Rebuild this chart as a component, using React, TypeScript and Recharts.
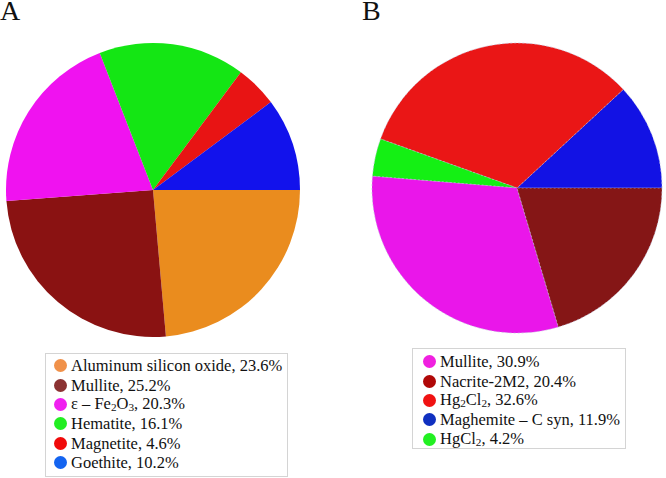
import React from 'react';
import { PieChart, Pie, Cell } from 'recharts';

// panel A: clockwise from 3 o'clock
const namesA = ['Aluminum silicon oxide', 'Mullite', 'ε – Fe_2O_3', 'Hematite', 'Magnetite', 'Goethite'];
const valuesA = [23.6, 25.2, 20.3, 16.1, 4.6, 10.2];
const sliceColorsA = ['#EA8C1E', '#8A1212', '#F012F0', '#14E614', '#E81414', '#1212EC'];
const legendColorsA = ['#F0914A', '#8B3232', '#F020F0', '#22EE22', '#F00A0A', '#1464F0'];

// panel B: counter-clockwise from 3 o'clock
const namesB = ['Maghemite – C syn', 'Hg_2Cl_2', 'HgCl_2', 'Mullite', 'Nacrite-2M2'];
const valuesB = [11.9, 32.6, 4.2, 30.9, 20.4];
const sliceColorsB = ['#1212E4', '#EA1616', '#14F014', '#EA16EA', '#851616'];
const legendColorsB = ['#1030C0', '#F01212', '#22F022', '#F020E0', '#B00808'];
const legendOrderB = [3, 4, 1, 0, 2];

const FONT = '"Liberation Serif", "Times New Roman", serif';
const NO_MARGIN = { top: 0, right: 0, bottom: 0, left: 0 };

// "_2" -> subscript 2
function Formula({ text }: { text: string }) {
  const parts = text.split(/(_\d)/);
  return (
    <>
      {parts.map((p, i) =>
        p.startsWith('_') ? (
          <span
            key={i}
            style={{ fontSize: '0.68em', display: 'inline-block', lineHeight: 1, verticalAlign: '-0.2em' }}
          >
            {p.slice(1)}
          </span>
        ) : (
          <span key={i}>{p}</span>
        )
      )}
    </>
  );
}

function LegendBox({
  names,
  values,
  colors,
  order,
  style,
}: {
  names: string[];
  values: number[];
  colors: string[];
  order: number[];
  style: React.CSSProperties;
}) {
  return (
    <div
      style={{
        position: 'absolute',
        border: '1px solid #d4d4d4',
        boxSizing: 'border-box',
        fontFamily: FONT,
        fontSize: 16.5,
        color: '#111',
        ...style,
      }}
    >
      {order.map(i => (
        <div key={i} style={{ display: 'flex', alignItems: 'center', height: 19.4, whiteSpace: 'nowrap' }}>
          <span
            style={{
              display: 'inline-block',
              width: 13,
              height: 13,
              borderRadius: '50%',
              background: colors[i],
              marginRight: 4,
              flex: 'none',
            }}
          />
          <span style={{ lineHeight: '17px' }}>
            <Formula text={names[i]} />, {values[i].toFixed(1)}%
          </span>
        </div>
      ))}
    </div>
  );
}

export default function App() {
  const dataA = namesA.map((n, i) => ({ name: n, value: valuesA[i] }));
  const dataB = namesB.map((n, i) => ({ name: n, value: valuesB[i] }));

  return (
    <div
      style={{
        position: 'absolute',
        left: 0,
        top: 0,
        width: 666,
        height: 478,
        background: '#fff',
        overflow: 'hidden',
      }}
    >
      <div style={{ position: 'absolute', left: 0, top: 0 }}>
        <PieChart width={333} height={478} margin={NO_MARGIN}>
          <Pie
            data={dataA}
            dataKey="value"
            cx={153}
            cy={190}
            outerRadius={147}
            startAngle={0}
            endAngle={-360}
            stroke="none"
            isAnimationActive={false}
          >
            {dataA.map((_, i) => (
              <Cell key={i} fill={sliceColorsA[i]} />
            ))}
          </Pie>
        </PieChart>
      </div>
      <div style={{ position: 'absolute', left: 333, top: 0 }}>
        <PieChart width={333} height={478} margin={NO_MARGIN}>
          <Pie
            data={dataB}
            dataKey="value"
            cx={184}
            cy={188}
            outerRadius={145}
            startAngle={0}
            endAngle={360}
            stroke="#b8b8d8"
            strokeWidth={0.6}
            strokeDasharray="2 2"
            isAnimationActive={false}
          >
            {dataB.map((_, i) => (
              <Cell key={i} fill={sliceColorsB[i]} />
            ))}
          </Pie>
        </PieChart>
      </div>

      <div style={{ position: 'absolute', left: 0, top: 1, lineHeight: '20px', fontFamily: FONT, fontSize: 28, color: '#111' }}>A</div>
      <div style={{ position: 'absolute', left: 362, top: 1, lineHeight: '20px', fontFamily: FONT, fontSize: 28, color: '#111' }}>B</div>

      <LegendBox
        names={namesA}
        values={valuesA}
        colors={legendColorsA}
        order={[0, 1, 2, 3, 4, 5]}
        style={{ left: 45, top: 353, width: 243, height: 124, padding: '2px 0 0 8px' }}
      />
      <LegendBox
        names={namesB}
        values={valuesB}
        colors={legendColorsB}
        order={legendOrderB}
        style={{ left: 412, top: 348, width: 214, height: 101, padding: '3px 0 0 10px' }}
      />
    </div>
  );
}
